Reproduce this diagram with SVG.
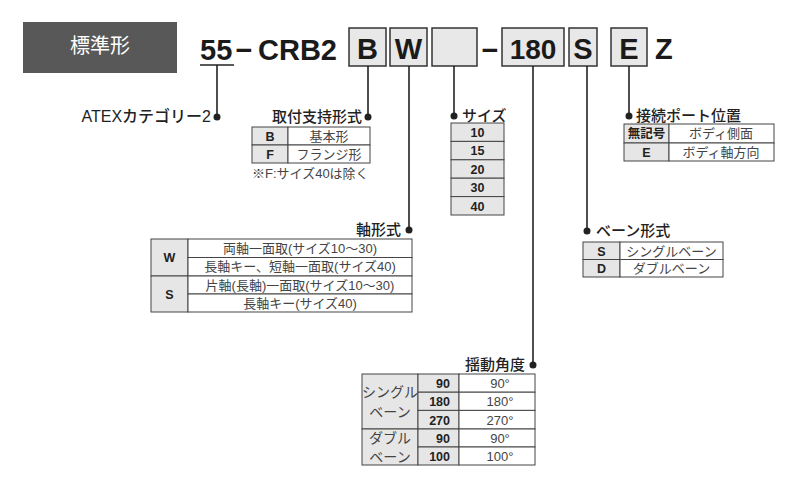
<svg xmlns="http://www.w3.org/2000/svg" width="800" height="490" viewBox="0 0 800 490">
<style>
.jp{font-family:"Liberation Sans","Noto Sans CJK JP",sans-serif}
.big{font-family:"Liberation Sans","Noto Sans CJK JP",sans-serif;font-weight:bold;font-size:29px;fill:#1a1a1a}
.box{fill:#e8e8e8;stroke:#333;stroke-width:1.5}
.ln{stroke:#222;stroke-width:1.6;fill:none}
.dot{fill:#222}
.lab{font-family:"Liberation Sans","Noto Sans CJK JP",sans-serif;font-size:15px;fill:#222;font-weight:500}
.cell{stroke:#444;stroke-width:1}
.key{fill:#e6e6e6}
.wht{fill:#fff}
.kt{font-family:"Liberation Sans","Noto Sans CJK JP",sans-serif;font-size:12.5px;font-weight:bold;fill:#222;text-anchor:middle}
.vt{font-family:"Liberation Sans","Noto Sans CJK JP",sans-serif;font-size:13px;fill:#444;text-anchor:middle}
.vt2{font-family:"Liberation Sans","Noto Sans CJK JP",sans-serif;font-size:14px;fill:#444;text-anchor:middle}
.ktr{font-family:"Liberation Sans","Noto Sans CJK JP",sans-serif;font-size:12.5px;font-weight:bold;fill:#222;text-anchor:end}
</style>
<rect width="800" height="490" fill="#fff"/>
<g id="header">
<rect x="23" y="22" width="154" height="51" fill="#585858"/>
<text x="100" y="53" class="jp" font-size="20" fill="#fff" text-anchor="middle">標準形</text>
</g>
<g id="code">
<text x="200" y="60" class="big">55</text>
<text x="244" y="60" class="big" text-anchor="middle">−</text>
<text x="258" y="60" class="big">CRB2</text>
<rect x="349" y="28" width="37" height="38" class="box"/>
<text x="367.5" y="59" class="big" text-anchor="middle">B</text>
<rect x="390" y="28" width="37" height="38" class="box"/>
<text x="408.5" y="59" class="big" text-anchor="middle">W</text>
<rect x="432" y="28" width="45" height="38" class="box"/>
<text x="490" y="60" class="big" text-anchor="middle">−</text>
<rect x="502" y="28" width="62" height="38" class="box"/>
<text x="533" y="59" class="big" text-anchor="middle" style="font-size:28px">180</text>
<rect x="569" y="28" width="28" height="38" class="box"/>
<text x="583" y="59" class="big" text-anchor="middle">S</text>
<rect x="611" y="28" width="36" height="38" class="box"/>
<text x="629" y="59" class="big" text-anchor="middle">E</text>
<text x="655" y="59" class="big">Z</text>
</g>
<g id="connectors">
<line x1="200" y1="65" x2="234" y2="65" class="ln"/>
<line x1="217" y1="65" x2="217" y2="117" class="ln"/>
<circle cx="217" cy="117" r="3.5" class="dot"/>
<line x1="368" y1="66" x2="368" y2="117" class="ln"/>
<circle cx="368" cy="117" r="3.5" class="dot"/>
<line x1="409" y1="66" x2="409" y2="230" class="ln"/>
<circle cx="409" cy="230" r="3.5" class="dot"/>
<line x1="454" y1="66" x2="454" y2="116" class="ln"/>
<circle cx="454" cy="116" r="3.5" class="dot"/>
<line x1="533" y1="66" x2="533" y2="365" class="ln"/>
<circle cx="533" cy="365" r="3.5" class="dot"/>
<line x1="587" y1="66" x2="587" y2="231" class="ln"/>
<circle cx="587" cy="231" r="3.5" class="dot"/>
<line x1="629" y1="66" x2="629" y2="116" class="ln"/>
<circle cx="629" cy="116" r="3.5" class="dot"/>
</g>
<g id="atex">
<text x="211" y="122" class="lab" style="font-size:16px" text-anchor="end">ATEXカテゴリー2</text>
</g>
<g id="mount">
<text x="362" y="122" class="lab" text-anchor="end">取付支持形式</text>
<rect x="252" y="127" width="36" height="18" class="cell key"/>
<rect x="288" y="127" width="82" height="18" class="cell wht"/>
<rect x="252" y="145" width="36" height="18" class="cell key"/>
<rect x="288" y="145" width="82" height="18" class="cell wht"/>
<text x="270" y="141" class="kt">B</text>
<text x="329" y="141" class="vt">基本形</text>
<text x="270" y="159" class="kt">F</text>
<text x="329" y="159" class="vt">フランジ形</text>
<text x="252" y="178" class="jp" font-size="13" fill="#444">※F:サイズ40は除く</text>
</g>
<g id="shaft">
<text x="401" y="235" class="lab" text-anchor="end">軸形式</text>
<rect x="151" y="239" width="37" height="37" class="cell key"/>
<rect x="151" y="276" width="37" height="36" class="cell key"/>
<rect x="188" y="239" width="224" height="18.5" class="cell wht"/>
<rect x="188" y="257.5" width="224" height="18.5" class="cell wht"/>
<rect x="188" y="276" width="224" height="18" class="cell wht"/>
<rect x="188" y="294" width="224" height="18" class="cell wht"/>
<text x="169.5" y="262" class="kt">W</text>
<text x="169.5" y="299" class="kt">S</text>
<text x="300" y="253" class="vt">両軸一面取(サイズ10〜30)</text>
<text x="300" y="271" class="vt">長軸キー、短軸一面取(サイズ40)</text>
<text x="300" y="290" class="vt">片軸(長軸)一面取(サイズ10〜30)</text>
<text x="300" y="308" class="vt">長軸キー(サイズ40)</text>
</g>
<g id="size">
<text x="462" y="121" class="lab">サイズ</text>
<rect x="451" y="123" width="53" height="18.4" class="cell key"/>
<rect x="451" y="141.4" width="53" height="18.4" class="cell key"/>
<rect x="451" y="159.8" width="53" height="18.4" class="cell key"/>
<rect x="451" y="178.2" width="53" height="18.4" class="cell key"/>
<rect x="451" y="196.6" width="53" height="18.4" class="cell key"/>
<text x="477.5" y="137" class="kt">10</text>
<text x="477.5" y="155.4" class="kt">15</text>
<text x="477.5" y="173.8" class="kt">20</text>
<text x="477.5" y="192.2" class="kt">30</text>
<text x="477.5" y="210.6" class="kt">40</text>
</g>
<g id="port">
<text x="636" y="121" class="lab">接続ポート位置</text>
<rect x="624" y="124" width="45" height="19" class="cell key"/>
<rect x="669" y="124" width="105" height="19" class="cell wht"/>
<rect x="624" y="143" width="45" height="18" class="cell key"/>
<rect x="669" y="143" width="105" height="18" class="cell wht"/>
<text x="646.5" y="138" class="kt">無記号</text>
<text x="721" y="138" class="vt">ボディ側面</text>
<text x="646.5" y="157" class="kt">E</text>
<text x="721" y="157" class="vt">ボディ軸方向</text>
</g>
<g id="vane">
<text x="596" y="236" class="lab">ベーン形式</text>
<rect x="583" y="242" width="37" height="17.5" class="cell key"/>
<rect x="620" y="242" width="103" height="17.5" class="cell wht"/>
<rect x="583" y="259.5" width="37" height="17.5" class="cell key"/>
<rect x="620" y="259.5" width="103" height="17.5" class="cell wht"/>
<text x="601.5" y="255.5" class="kt">S</text>
<text x="671.5" y="255.5" class="vt">シングルベーン</text>
<text x="601.5" y="273" class="kt">D</text>
<text x="671.5" y="273" class="vt">ダブルベーン</text>
</g>
<g id="angle">
<text x="525" y="370" class="lab" text-anchor="end">揺動角度</text>
<rect x="362" y="374" width="56" height="55" class="cell key"/>
<rect x="362" y="429" width="56" height="36" class="cell key"/>
<rect x="418" y="374" width="41" height="18.2" class="cell key"/>
<rect x="418" y="392.2" width="41" height="18.2" class="cell key"/>
<rect x="418" y="410.4" width="41" height="18.6" class="cell key"/>
<rect x="418" y="429" width="41" height="18" class="cell key"/>
<rect x="418" y="447" width="41" height="18" class="cell key"/>
<rect x="459" y="374" width="76" height="18.2" class="cell wht"/>
<rect x="459" y="392.2" width="76" height="18.2" class="cell wht"/>
<rect x="459" y="410.4" width="76" height="18.6" class="cell wht"/>
<rect x="459" y="429" width="76" height="18" class="cell wht"/>
<rect x="459" y="447" width="76" height="18" class="cell wht"/>
<text x="390" y="397" class="vt2">シングル</text>
<text x="390" y="417" class="vt2">ベーン</text>
<text x="390" y="443" class="vt2">ダブル</text>
<text x="390" y="462" class="vt2">ベーン</text>
<text x="450" y="388" class="ktr">90</text>
<text x="450" y="406" class="ktr">180</text>
<text x="450" y="424.5" class="ktr">270</text>
<text x="450" y="443" class="ktr">90</text>
<text x="450" y="461" class="ktr">100</text>
<text x="500" y="388" class="vt">90°</text>
<text x="500" y="406" class="vt">180°</text>
<text x="500" y="424.5" class="vt">270°</text>
<text x="500" y="443" class="vt">90°</text>
<text x="500" y="461" class="vt">100°</text>
</g>
</svg>
